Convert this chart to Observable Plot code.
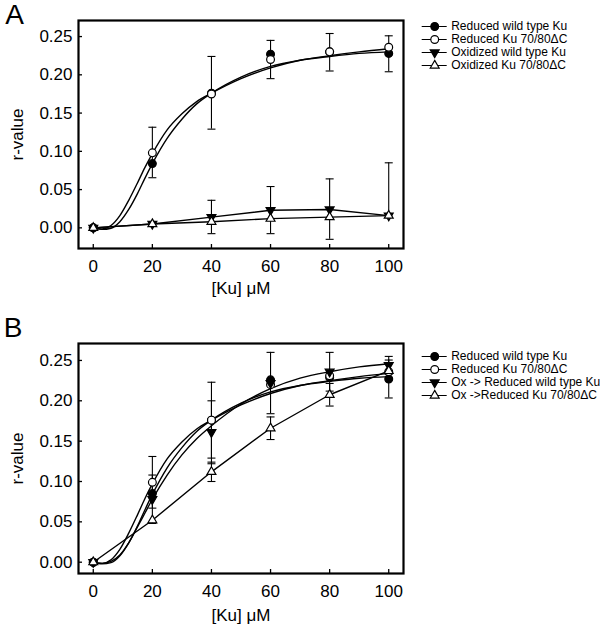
<!DOCTYPE html>
<html><head><meta charset="utf-8">
<script src="https://cdn.jsdelivr.net/npm/d3@7"></script>
<script src="https://cdn.jsdelivr.net/npm/@observablehq/plot@0.6"></script>
<style>
body{margin:0;background:#fff;}
#wrap{position:relative;width:600px;height:626px;background:#fff;}
#wrap > svg{position:absolute;}
</style></head><body><div id="wrap"></div>
<script>
// ---- data ----
const ku = [0, 20, 40, 60, 80, 100];
const xTicks = [0, 20, 40, 60, 80, 100];
const yTicks = [0, 0.05, 0.10, 0.15, 0.20, 0.25];

// Panel A measured points
const aRedWT = [0, 0.084, 0.176, 0.227, 0.230, 0.228];
const aRedDC = [0, 0.098, 0.175, 0.220, 0.230, 0.236];
const aOxWT  = [0, 0.005, 0.014, 0.023, 0.024, 0.016];
const aOxDC  = [0, 0.005, 0.008, 0.012, 0.014, 0.016];

// Panel B measured points
const bRedWT   = [0, 0.085, 0.176, 0.226, 0.229, 0.227];
const bRedDC   = [0, 0.099, 0.176, 0.220, 0.231, 0.236];
const bOxRedWT = [0, 0.078, 0.161, 0.222, 0.236, 0.244];
const bOxRedDC = [0, 0.052, 0.112, 0.166, 0.2075, 0.237];

// fitted curves
const fitX       = [0, 3, 6, 9, 12, 15, 17.5, 20, 25, 30, 35, 40, 50, 60, 70, 80, 90, 100];
const fitRedWT   = [0, -0.002, -0.0005, 0.008, 0.024, 0.045, 0.065, 0.084, 0.117, 0.142, 0.162, 0.176, 0.197, 0.211, 0.219, 0.224, 0.228, 0.230];
const fitRedDC   = [0, -0.0015, 0.003, 0.016, 0.036, 0.059, 0.079, 0.097, 0.128, 0.149, 0.165, 0.176, 0.195, 0.209, 0.219, 0.225, 0.230, 0.234];
const fitOxRedWT = [0, -0.0015, 0.001, 0.009, 0.024, 0.044, 0.061, 0.078, 0.108, 0.133, 0.153, 0.169, 0.196, 0.215, 0.228, 0.236, 0.242, 0.246];

// error bars (x, centre, low end or null, high end)
const aErrX   = [20, 40, 60, 80, 100, 40, 60, 80, 100];
const aErrMid = [0.098, 0.176, 0.220, 0.230, 0.228, 0.014, 0.023, 0.024, 0.016];
const aErrLo  = [0.0655, 0.129, 0.195, 0.205, 0.204, -0.0076, -0.0076, -0.015, null];
const aErrHi  = [0.1315, 0.224, 0.245, 0.254, 0.251, 0.036, 0.054, 0.064, 0.085];

const bErrX   = [20, 20, 40, 40, 40, 60, 60, 80, 80, 100, 100];
const bErrMid = [0.099, 0.078, 0.176, 0.161, 0.112, 0.222, 0.166, 0.236, 0.2075, 0.227, 0.244];
const bErrLo  = [0.067, 0.048, 0.129, 0.122, 0.100, 0.184, 0.152, 0.212, 0.1935, 0.2035, 0.233];
const bErrHi  = [0.131, 0.108, 0.223, 0.200, 0.124, 0.260, 0.180, 0.260, 0.2215, 0.2505, 0.255];

const legendA = ["Reduced wild type Ku", "Reduced Ku 70/80\u0394C", "Oxidized wild type Ku", "Oxidized Ku 70/80\u0394C"];
const legendB = ["Reduced wild type Ku", "Reduced Ku 70/80\u0394C", "Ox -> Reduced wild type Ku", "Ox ->Reduced Ku 70/80\u0394C"];

// ---- styles ----
const FONT = '"Liberation Sans", Arial, Helvetica, sans-serif';
const markerStyles = [
  {symbol: "circle", fill: "black", rotate: 0, r: 3.9},
  {symbol: "circle", fill: "white", rotate: 0, r: 3.9},
  {symbol: "triangle", fill: "black", rotate: 180, r: 3.3},
  {symbol: "triangle", fill: "white", rotate: 0, r: 3.3}
];
const capSymbol = {draw(ctx, size) { const w = Math.sqrt(size / Math.PI); ctx.moveTo(-w, 0); ctx.lineTo(w, 0); }};

function pts(xs, ys) { return xs.map((x, i) => ({x, y: ys[i]})); }

function errMarks(X, M, L, H) {
  const bars = X.map((x, i) => ({x, lo: L[i] == null ? M[i] : L[i], hi: H[i]}));
  const caps = [];
  X.forEach((x, i) => { caps.push({x, y: H[i]}); if (L[i] != null) caps.push({x, y: L[i]}); });
  return [
    Plot.ruleX(bars, {x: "x", y1: "lo", y2: "hi", stroke: "black", strokeWidth: 1.1}),
    Plot.dot(caps, {x: "x", y: "y", symbol: capSymbol, r: 4, fill: "none", stroke: "black", strokeWidth: 1.1})
  ];
}

function dotMarks(seriesList) {
  return seriesList.map((vals, i) => {
    const s = markerStyles[i];
    return Plot.dot(pts(ku, vals), {x: "x", y: "y", symbol: s.symbol, rotate: s.rotate, r: s.r,
      fill: s.fill, stroke: "black", strokeWidth: 1.2});
  });
}

const mid = {textAnchor: "middle", lineAnchor: "middle"};

function panel({height, marginTop, marginBottom, yDomain, lines, errs, dots, letter, letterDx, letterDy, xLabelDy}) {
  return Plot.plot({
    width: 600, height, marginLeft: 78, marginRight: 197, marginTop, marginBottom,
    style: {fontFamily: FONT, fontSize: "17px", color: "black", background: "white", overflow: "visible"},
    x: {domain: [-5, 105]},
    y: {domain: yDomain},
    marks: [
      Plot.axisX(xTicks, {anchor: "bottom", tickSize: 4, dy: -4, tickFormat: () => "", label: null, strokeWidth: 1.3}),
      Plot.axisX(xTicks, {anchor: "bottom", tickSize: 0, tickPadding: 11, label: null, fontSize: 17}),
      Plot.axisY(yTicks, {anchor: "left", tickSize: 4, dx: 4, tickFormat: () => "", label: null, strokeWidth: 1.3}),
      Plot.axisY(yTicks, {anchor: "left", tickSize: 0, tickPadding: 6, tickFormat: d3.format(".2f"), label: null, fontSize: 17}),
      ...lines,
      ...errs,
      ...dots,
      Plot.frame({stroke: "black", strokeWidth: 2.2}),
      Plot.text(["[Ku] \u03BCM"], {text: d => d, frameAnchor: "bottom", dy: xLabelDy, fontSize: 17, ...mid}),
      Plot.text(["r-value"], {text: d => d, frameAnchor: "left", rotate: -90, dx: -61, fontSize: 17, ...mid}),
      Plot.text([letter], {text: d => d, frameAnchor: "top-left", dx: letterDx, dy: letterDy, fontSize: 28, ...mid})
    ]
  });
}

function legend(labels) {
  return Plot.plot({
    width: 180, height: 60, margin: 0,
    style: {fontFamily: FONT, fontSize: "12px", color: "black", background: "transparent", overflow: "visible"},
    x: {domain: [0, 1], range: [1.7, 26.7], axis: null},
    y: {type: "point", domain: labels, range: [10.6, 50.6], padding: 0, axis: null},
    marks: [
      Plot.ruleY(labels, {y: d => d, x1: 0, x2: 1, stroke: "black", strokeWidth: 1}),
      ...markerStyles.map((s, i) => Plot.dot([labels[i]], {x: 0.5, y: d => d, symbol: s.symbol, rotate: s.rotate,
        r: s.r, fill: s.fill, stroke: "black", strokeWidth: 1.2})),
      Plot.text(labels, {x: 1, y: d => d, text: d => d, textAnchor: "start", dx: 4, fontSize: 12})
    ]
  });
}

const lineStyle = {x: "x", y: "y", stroke: "black", strokeWidth: 1.4};
const smooth = {...lineStyle, curve: "monotone-x"};

const A = panel({
  height: 300, marginTop: 20, marginBottom: 52, yDomain: [-0.027, 0.271],
  lines: [
    Plot.line(pts(fitX, fitRedWT), smooth),
    Plot.line(pts(fitX, fitRedDC), smooth),
    Plot.line(pts(ku, aOxWT), lineStyle),
    Plot.line(pts(ku, aOxDC), lineStyle)
  ],
  errs: errMarks(aErrX, aErrMid, aErrLo, aErrHi),
  dots: dotMarks([aRedWT, aRedDC, aOxWT, aOxDC]),
  letter: "A", letterDx: -64, letterDy: -5.5, xLabelDy: 40
});

const B = panel({
  height: 326, marginTop: 43, marginBottom: 53, yDomain: [-0.014, 0.271],
  lines: [
    Plot.line(pts(fitX, fitRedWT), smooth),
    Plot.line(pts(fitX, fitRedDC), smooth),
    Plot.line(pts(fitX, fitOxRedWT), smooth),
    Plot.line(pts(ku, bOxRedDC), lineStyle)
  ],
  errs: errMarks(bErrX, bErrMid, bErrLo, bErrHi),
  dots: dotMarks([bRedWT, bRedDC, bOxRedWT, bOxRedDC]),
  letter: "B", letterDx: -65.5, letterDy: -15, xLabelDy: 42
});

const wrap = document.getElementById("wrap");
A.style.left = "0px"; A.style.top = "0px";
B.style.left = "0px"; B.style.top = "300px";
const LA = legend(legendA); LA.style.left = "420px"; LA.style.top = "15px";
const LB = legend(legendB); LB.style.left = "420px"; LB.style.top = "344.5px";
wrap.append(A, B, LA, LB);
</script></body></html>
